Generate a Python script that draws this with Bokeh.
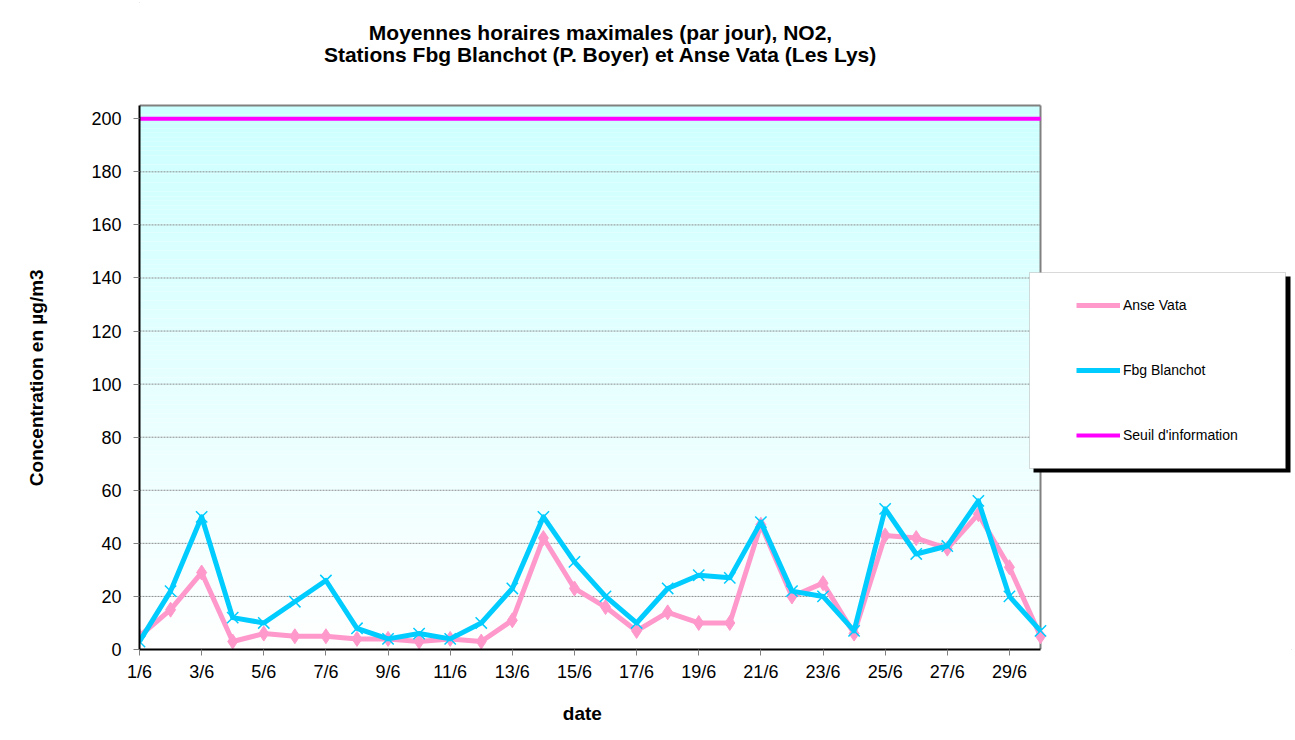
import numpy as np
from bokeh.plotting import figure
from bokeh.models import (Range1d, FixedTicker, Legend, LegendItem,
                          BoxAnnotation, Label)
from bokeh.embed import file_html
from bokeh.resources import INLINE

# ---------------- data ----------------
dates = ["1/6", "2/6", "3/6", "4/6", "5/6", "6/6", "7/6", "8/6", "9/6", "10/6",
         "11/6", "12/6", "13/6", "14/6", "15/6", "16/6", "17/6", "18/6", "19/6", "20/6",
         "21/6", "22/6", "23/6", "24/6", "25/6", "26/6", "27/6", "28/6", "29/6", "30/6"]
day_index = list(range(1, 31))
anse_vata = [5, 15, 29, 3, 6, 5, 5, 4, 4, 3,
             4, 3, 11, 42, 23, 16, 7, 14, 10, 10,
             47, 20, 25, 6, 43, 42, 38, 51, 31, 5]
fbg_blanchot = [3, 22, 50, 12, 10, 18, 26, 8, 4, 6,
                4, 10, 23, 50, 33, 20, 10, 23, 28, 27,
                48, 22, 20, 7, 53, 36, 39, 56, 20, 7]
seuil = [200] * 30
y_ticks = [0, 20, 40, 60, 80, 100, 120, 140, 160, 180, 200]
x_label_days = [1, 3, 5, 7, 9, 11, 13, 15, 17, 19, 21, 23, 25, 27, 29]
title_lines = ["Moyennes horaires maximales (par jour), NO2,",
               "Stations Fbg Blanchot (P. Boyer) et Anse Vata (Les Lys)"]
series_names = ["Anse Vata", "Fbg Blanchot", "Seuil d'information"]
x_title = "date"
y_title = "Concentration en µg/m3"

# ---------------- layout ----------------
W, H = 1294, 739
FRAME_L, FRAME_B = 139, 649          # page px of the data area's left / bottom
PLOT_W, PLOT_H = 901, 544            # px of the Excel plot area
X0, XMAX = 1, 30
Y0, YMAX = 0, 205
PX_PER_X = PLOT_W / (XMAX - X0)
PX_PER_Y = PLOT_H / (YMAX - Y0)
X_END = X0 + (W - FRAME_L) / PX_PER_X
Y_END = Y0 + FRAME_B / PX_PER_Y
FONT = "Liberation Sans"
NBSP = "\u00a0"


def px_x(px):
    return X0 + (px - FRAME_L) / PX_PER_X


def px_y(py):
    return Y0 + (FRAME_B - py) / PX_PER_Y


p = figure(width=W, height=H, output_backend="svg", toolbar_location=None,
           x_range=Range1d(X0, X_END), y_range=Range1d(Y0, Y_END),
           min_border_left=FRAME_L, min_border_right=0,
           min_border_top=0, min_border_bottom=H - FRAME_B, title=None)
p.styles = {"outline": "1px solid #a6a6a6", "outline-offset": "-3px"}
p.outline_line_color = None
p.background_fill_color = "white"
p.border_fill_color = "white"
p.grid.visible = False

# gradient background of the plot area (cyan top -> white bottom)
n = 120
edges = np.linspace(Y0, YMAX, n + 1)
cols = []
for i in range(n):
    t = (edges[i] + edges[i + 1]) / 2 / YMAX
    r = int(round(255 - 51 * t))
    cols.append("#%02x%02x%02x" % (r, 255, 255))
p.quad(left=X0, right=XMAX, bottom=edges[:-1], top=edges[1:], fill_color=cols,
       line_color=None, level="image")

# horizontal gridlines limited to plot area
grid_y = y_ticks[1:]
p.segment(x0=[X0] * len(grid_y), x1=[XMAX] * len(grid_y), y0=grid_y, y1=grid_y,
          line_color="#8c8c8c", line_dash="2 1", line_width=1, level="underlay")
# plot-area border (top and right)
p.segment(x0=[X0, XMAX], x1=[XMAX, XMAX], y0=[YMAX, Y0], y1=[YMAX, YMAX],
          line_color="#808080", line_width=2, level="underlay")

# axes
p.yaxis.ticker = FixedTicker(ticks=y_ticks)
p.xaxis.ticker = FixedTicker(ticks=x_label_days)
p.xaxis.major_label_overrides = {d: dates[d - 1] for d in x_label_days}
p.xaxis.bounds = (X0, XMAX)
p.yaxis.bounds = (Y0, YMAX)
for ax in (p.xaxis[0], p.yaxis[0]):
    ax.axis_line_color = "black"
    ax.axis_line_width = 2
    ax.major_tick_line_color = "#808080"
    ax.major_tick_in = 0
    ax.major_tick_out = 6
    ax.minor_tick_line_color = None
    ax.major_label_text_font = FONT
    ax.major_label_text_font_size = "18px"
    ax.major_label_text_color = "black"
    ax.axis_label_text_font = FONT
    ax.axis_label_text_font_size = "19px"
    ax.axis_label_text_font_style = "bold"
    ax.axis_label_text_color = "black"
p.yaxis.major_label_standoff = 12
p.xaxis.major_label_standoff = 6
# axis titles: the frame spans the whole chart, so the labels are padded with
# no-break spaces to sit where the reference centres them on the plot area
p.xaxis.axis_label = x_title + NBSP * 51
p.yaxis.axis_label = y_title + NBSP * 20
p.xaxis.axis_label_standoff = 18
p.yaxis.axis_label_standoff = 41

# series
PINK, BLUE, MAG = "#ff99cc", "#00ccff", "#ff00ff"
l_av = p.line(day_index, anse_vata, line_color=PINK, line_width=5, line_join="round")
p.scatter(day_index, anse_vata, marker="diamond", size=15,
          fill_color=PINK, line_color=PINK)
l_fb = p.line(day_index, fbg_blanchot, line_color=BLUE, line_width=5, line_join="round")
p.scatter(day_index, fbg_blanchot, marker="x", size=16,
          line_color=BLUE, line_width=1.5)
l_se = p.line(day_index, seuil, line_color=MAG, line_width=4)

# titles
for txt, base_y in zip(title_lines, [31.5, 54]):
    p.add_layout(Label(x=px_x(600), y=px_y(base_y), text=txt, text_align="center",
                       text_baseline="alphabetic", text_font=FONT,
                       text_font_size="21px", text_font_style="bold",
                       text_color="black"))

# legend box with shadow
p.add_layout(BoxAnnotation(left=px_x(1033), right=px_x(1290), top=px_y(276),
                           bottom=px_y(472), fill_color="black", fill_alpha=1,
                           line_color=None))
p.add_layout(BoxAnnotation(left=px_x(1029), right=px_x(1285), top=px_y(272),
                           bottom=px_y(468), fill_color="white", fill_alpha=1,
                           line_color="#808080", line_width=1))

legend = Legend(items=[LegendItem(label=series_names[0], renderers=[l_av]),
                       LegendItem(label=series_names[1], renderers=[l_fb]),
                       LegendItem(label=series_names[2], renderers=[l_se])],
                location=(1076 - FRAME_L, FRAME_B - 445),
                padding=0, margin=0, spacing=45, label_height=20, glyph_height=20,
                glyph_width=44, label_standoff=3,
                label_text_font=FONT, label_text_font_size="14px",
                label_text_color="black",
                border_line_color=None, background_fill_alpha=0)
p.add_layout(legend, "center")

open("out.html", "w").write(file_html(p, INLINE))
